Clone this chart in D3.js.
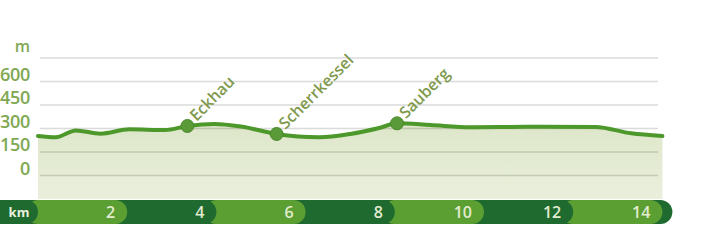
<!DOCTYPE html>
<html>
<head>
<meta charset="utf-8">
<script src="https://cdn.jsdelivr.net/npm/d3@7"></script>
<style>
  body { margin: 0; background: #fff; }
  svg { display: block; font-family: "Open Sans", "Liberation Sans", Arial, sans-serif; }
</style>
</head>
<body>
<svg width="701" height="240"></svg>
<script>
// elevation profile (km, m)
var km   = [0, 0.4, 0.85, 1.4, 2.05, 2.85, 3.35, 3.95, 4.55, 5.35, 6.3, 7.0, 7.65, 8.05, 8.8, 9.7, 11.0, 12.5, 13.3, 14.0];
var elev = [252, 244, 288, 267, 295, 290, 316, 329, 313, 265, 244, 265, 303, 333, 322, 308, 311, 310, 269, 252];

// named places along the route
var places    = ["Eckhau", "Scherrkessel", "Sauberg"];
var placeKm   = [3.35, 5.35, 8.05];
var placeElev = [316, 265, 333];

var yTicks = [0, 150, 300, 450, 600];
var gridTicks = [0, 150, 300, 450, 600, 750];
var kmTicks = [2, 4, 6, 8, 10, 12, 14];

var svg = d3.select("svg");

var x = d3.scaleLinear().domain([0, 14]).range([38, 662.4]);
var y = d3.scaleLinear().domain([0, 750]).range([175.5, 58]);

var defs = svg.append("defs");
var grad = defs.append("linearGradient")
  .attr("id", "fillGrad")
  .attr("x1", 0).attr("y1", 0).attr("x2", 0).attr("y2", 1);
grad.append("stop").attr("offset", "0%").attr("stop-color", "#dde6c9");
grad.append("stop").attr("offset", "100%").attr("stop-color", "#eaefdc");

var profile = km.map(function(d, i) { return {km: d, elev: elev[i]}; });

// area under the profile
var area = d3.area()
  .x(function(d) { return x(d.km); })
  .y0(199)
  .y1(function(d) { return y(d.elev); })
  .curve(d3.curveMonotoneX);

svg.append("path")
  .datum(profile)
  .attr("d", area)
  .attr("fill", "url(#fillGrad)");

// grid lines
svg.selectAll(".grid")
  .data(gridTicks)
  .enter()
  .append("line")
  .attr("class", "grid")
  .attr("x1", 40)
  .attr("x2", 658)
  .attr("y1", function(d) { return y(d); })
  .attr("y2", function(d) { return y(d); })
  .attr("stroke", "#000")
  .attr("stroke-opacity", 0.14)
  .attr("stroke-width", 1.3);

// y labels
svg.selectAll(".ylab")
  .data(yTicks)
  .enter()
  .append("text")
  .attr("class", "ylab")
  .attr("x", 30)
  .attr("y", function(d) { return y(d) - 1; })
  .attr("text-anchor", "end")
  .attr("font-size", 18)
  .attr("font-weight", 600)
  .attr("letter-spacing", -0.3)
  .attr("fill", "#7fa852")
  .text(function(d) { return d; });

svg.append("text")
  .attr("x", 30)
  .attr("y", 52)
  .attr("text-anchor", "end")
  .attr("font-size", 16)
  .attr("font-weight", 600)
  .attr("fill", "#7fa852")
  .text("m");

// profile line
var line = d3.line()
  .x(function(d) { return x(d.km); })
  .y(function(d) { return y(d.elev); })
  .curve(d3.curveMonotoneX);

svg.append("path")
  .datum(profile)
  .attr("d", line)
  .attr("fill", "none")
  .attr("stroke", "#4c982a")
  .attr("stroke-width", 4)
  .attr("stroke-linecap", "round");

// place markers and labels
places.forEach(function(name, i) {
  var px = x(placeKm[i]), py = y(placeElev[i]);
  svg.append("circle")
    .attr("cx", px)
    .attr("cy", py)
    .attr("r", 6.5)
    .attr("fill", "#5b9a38")
    .attr("stroke", "#4a8a2a")
    .attr("stroke-width", 1);
  svg.append("text")
    .attr("transform", "translate(" + (px + 9) + "," + (py - 4) + ") rotate(-45)")
    .attr("font-size", 16)
    .attr("font-weight", 600)
    .attr("fill", "#80994c")
    .text(name);
});

// km bar
var barTop = 200, barH = 24, r = barH / 2;
var dark = "#1e6a2f", light = "#5b9f33";

svg.append("rect")
  .attr("x", 0)
  .attr("y", barTop)
  .attr("width", x(14) + 10)
  .attr("height", barH)
  .attr("rx", r)
  .attr("fill", dark);
svg.append("rect")
  .attr("x", 0)
  .attr("y", barTop)
  .attr("width", 20)
  .attr("height", barH)
  .attr("fill", dark);

// segments drawn right to left so each rounded end sits on top
kmTicks.slice().reverse().forEach(function(k) {
  var x0 = x(k - 2) - r;
  svg.append("rect")
    .attr("x", x0)
    .attr("y", barTop)
    .attr("width", x(k) - x0)
    .attr("height", barH)
    .attr("rx", r)
    .attr("fill", (k / 2) % 2 === 1 ? light : dark);
});

svg.append("rect")
  .attr("x", 0)
  .attr("y", barTop)
  .attr("width", x(0))
  .attr("height", barH)
  .attr("rx", r)
  .attr("fill", dark);
svg.append("rect")
  .attr("x", 0)
  .attr("y", barTop)
  .attr("width", 20)
  .attr("height", barH)
  .attr("fill", dark);

svg.append("text")
  .attr("x", 19)
  .attr("y", barTop + 17)
  .attr("text-anchor", "middle")
  .attr("font-size", 13)
  .attr("font-weight", "bold")
  .attr("fill", "#e8efdc")
  .text("km");

svg.selectAll(".kmlab")
  .data(kmTicks)
  .enter()
  .append("text")
  .attr("class", "kmlab")
  .attr("x", function(d) { return x(d) - 12; })
  .attr("y", barTop + 18)
  .attr("text-anchor", "end")
  .attr("font-size", 16)
  .attr("font-weight", 600)
  .attr("fill", "#e3ebcf")
  .text(function(d) { return d; });
</script>
</body>
</html>
